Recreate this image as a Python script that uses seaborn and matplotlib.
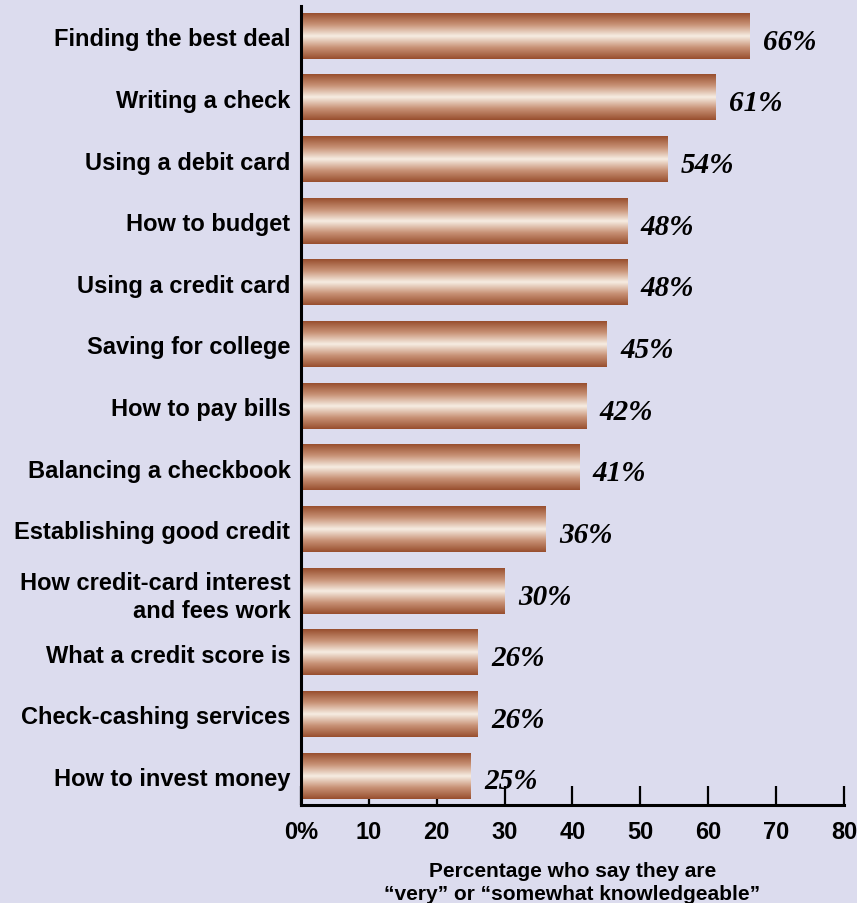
import numpy as np
import pandas as pd
import seaborn as sns
import matplotlib.pyplot as plt
from matplotlib.colors import LinearSegmentedColormap

topics = ["Finding the best deal", "Writing a check", "Using a debit card",
          "How to budget", "Using a credit card", "Saving for college",
          "How to pay bills", "Balancing a checkbook", "Establishing good credit",
          "How credit-card interest\nand fees work", "What a credit score is",
          "Check-cashing services", "How to invest money"]
pct = [66, 61, 54, 48, 48, 45, 42, 41, 36, 30, 26, 26, 25]
xticks = [0, 10, 20, 30, 40, 50, 60, 70, 80]
xticklabels = ["0%", "10", "20", "30", "40", "50", "60", "70", "80"]

df = pd.DataFrame({"topic": topics, "pct": pct})

bg = "#dcdcee"
sns.set_style("white")
plt.rcParams["font.family"] = ["Liberation Sans", "DejaVu Sans"]
plt.rcParams["text.color"] = "black"
plt.rcParams["xtick.color"] = "black"
plt.rcParams["ytick.color"] = "black"
plt.rcParams["axes.labelcolor"] = "black"

fig = plt.figure(figsize=(8.57, 9.04), dpi=100, facecolor=bg)
ax = fig.add_axes([0.351, 0.1084, 0.634, 0.8836])
ax.set_facecolor(bg)

sns.barplot(data=df, x="pct", y="topic", orient="h", width=0.73,
            color="#b87a5a", ax=ax)

# copper gradient on each bar
copper = LinearSegmentedColormap.from_list(
    "copper_bar", ["#984e2e", "#c89276", "#f7ede3", "#c89276", "#984e2e"])
grad = np.linspace(0, 1, 256).reshape(-1, 1)
for p in ax.patches:
    x0, y0 = p.get_x(), p.get_y()
    w, h = p.get_width(), p.get_height()
    ax.imshow(grad, cmap=copper, aspect="auto", interpolation="bilinear",
              extent=(x0, x0 + w, y0 + h, y0), zorder=2)
    p.set_visible(False)

for i, v in enumerate(pct):
    ax.text(v + 2, i + 0.08, f"{v}%", ha="left", va="center",
            fontsize=21, fontweight="bold", fontstyle="italic",
            family="Liberation Serif", color="black")

ax.set_xlim(0, 80)
ax.set_ylim(12.47, -0.486)
ax.set_xticks(xticks)
ax.set_xticklabels(xticklabels, fontsize=17, fontweight="bold")
ax.tick_params(axis="x", bottom=True, direction="in", length=14, width=1.6,
               pad=11, color="black")
ax.tick_params(axis="y", left=False, length=0, pad=7.5)
for lab in ax.get_yticklabels():
    lab.set_fontsize(17)
    lab.set_fontweight("bold")
    lab.set_ha("right")
    lab.set_multialignment("right")
    lab.set_linespacing(1.3)
ax.set_ylabel("")
ax.set_xlabel("Percentage who say they are\n\u201cvery\u201d or \u201csomewhat knowledgeable\u201d",
              fontsize=15, fontweight="bold", labelpad=13, linespacing=1.25)

sns.despine(ax=ax, top=True, right=True)
ax.spines["left"].set_linewidth(2.2)
ax.spines["bottom"].set_linewidth(2.2)
ax.spines["left"].set_color("black")
ax.spines["bottom"].set_color("black")

fig.savefig("out.png", dpi=100, facecolor=bg)
